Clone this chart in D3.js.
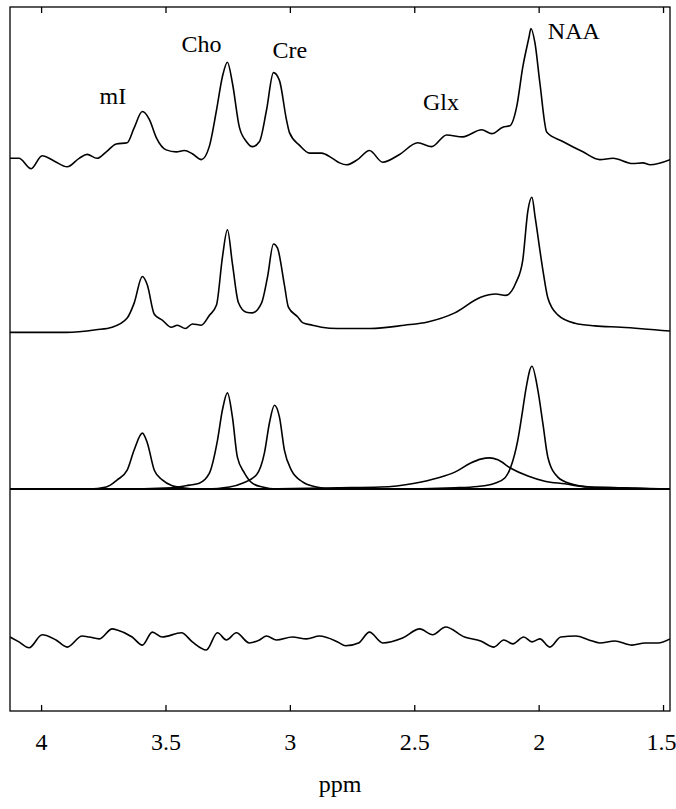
<!DOCTYPE html>
<html>
<head>
<meta charset="utf-8">
<script src="https://cdn.jsdelivr.net/npm/d3@7"></script>
<style>
  body { margin: 0; background: #fff; }
  svg text { font-family: "Liberation Serif", "Times New Roman", serif; fill: #000; }
</style>
</head>
<body>
<div id="chart"></div>
<script>
// chemical shift ticks
var ppmTicks = [4, 3.5, 3, 2.5, 2, 1.5];

// metabolite labels [name, ppm, amplitude above top trace]
var peakNames = ['mI', 'Cho', 'Cre', 'Glx', 'NAA'];
var labelPpm = [3.765, 3.436, 3.070, 2.465, 1.963];
var labelAmp = [0.42, 0.82, 0.77, 0.37, 0.92];

// measured spectrum (top)
var specPpm = [4.125,4.089,4.040,3.996,3.948,3.895,3.847,3.815,3.775,3.738,3.698,3.654,3.626,3.593,3.565,3.537,3.497,3.457,3.424,3.392,3.356,3.324,3.295,3.271,3.251,3.231,3.203,3.175,3.151,3.122,3.094,3.066,3.042,3.014,3.002,2.961,2.921,2.873,2.829,2.800,2.772,2.728,2.680,2.627,2.559,2.486,2.430,2.370,2.305,2.229,2.188,2.144,2.116,2.088,2.064,2.039,2.031,2.015,1.995,1.967,1.903,1.822,1.754,1.701,1.621,1.581,1.552,1.472];
var specAmp = [0.00,0.00,-0.08,0.02,-0.02,-0.065,0.00,0.03,0.00,0.05,0.11,0.12,0.235,0.36,0.30,0.16,0.065,0.05,0.06,0.035,-0.01,0.09,0.37,0.63,0.74,0.58,0.24,0.13,0.09,0.13,0.37,0.66,0.60,0.30,0.20,0.10,0.04,0.04,0.00,-0.035,-0.05,-0.01,0.06,-0.03,0.03,0.12,0.09,0.18,0.165,0.22,0.19,0.24,0.25,0.40,0.70,0.93,1.00,0.89,0.58,0.20,0.13,0.05,-0.01,0.00,-0.04,-0.035,-0.05,-0.01];

// fitted spectrum
var fitPpm = [4.125,4.036,3.899,3.779,3.714,3.654,3.626,3.593,3.573,3.545,3.513,3.477,3.452,3.420,3.392,3.356,3.324,3.295,3.271,3.251,3.231,3.207,3.175,3.151,3.114,3.090,3.066,3.050,3.022,3.006,2.969,2.949,2.909,2.873,2.808,2.676,2.539,2.446,2.337,2.233,2.172,2.132,2.092,2.064,2.043,2.027,2.014,1.983,1.963,1.923,1.854,1.774,1.669,1.472];
var fitAmp = [-0.01,-0.01,-0.01,0.01,0.03,0.10,0.215,0.42,0.355,0.13,0.085,0.03,0.045,0.02,0.055,0.045,0.12,0.20,0.57,0.78,0.52,0.22,0.145,0.14,0.215,0.415,0.67,0.64,0.355,0.185,0.11,0.065,0.045,0.03,0.02,0.02,0.045,0.07,0.14,0.26,0.285,0.275,0.37,0.545,0.93,1.03,0.875,0.47,0.255,0.125,0.06,0.04,0.03,0.00];

// fitted components
var mIPpm = [4.125,3.807,3.738,3.694,3.654,3.626,3.593,3.573,3.545,3.513,3.473,3.432,3.364,1.472];
var mIAmp = [0,0,0.015,0.07,0.145,0.30,0.43,0.355,0.145,0.07,0.025,0.01,0,0];
var choPpm = [4.125,3.700,3.473,3.404,3.364,3.324,3.291,3.271,3.251,3.231,3.211,3.183,3.151,3.110,3.054,1.472];
var choAmp = [0,0,0.01,0.03,0.045,0.12,0.375,0.61,0.74,0.555,0.245,0.125,0.045,0.015,0,0];
var crePpm = [4.125,3.500,3.336,3.243,3.191,3.134,3.102,3.082,3.062,3.042,3.022,2.994,2.949,2.893,2.829,1.472];
var creAmp = [0,0,0,0.015,0.045,0.11,0.28,0.51,0.645,0.555,0.30,0.145,0.055,0.015,0,0];
var glxPpm = [4.125,3.200,2.808,2.635,2.498,2.406,2.337,2.273,2.233,2.196,2.164,2.112,2.043,1.975,1.895,1.802,1.669,1.472];
var glxAmp = [0,0,0.01,0.015,0.045,0.085,0.13,0.20,0.23,0.24,0.225,0.16,0.10,0.06,0.04,0.015,0.01,0];
var naaPpm = [4.125,2.600,2.337,2.245,2.176,2.136,2.112,2.084,2.064,2.052,2.027,2.003,1.983,1.963,1.923,1.870,1.790,1.669,1.512,1.472];
var naaAmp = [0,0,0.01,0.02,0.045,0.085,0.17,0.375,0.61,0.76,0.945,0.76,0.505,0.245,0.092,0.04,0.015,0.01,0,0];

// residual (bottom)
var resPpm = [4.125,4.089,4.048,3.996,3.940,3.895,3.835,3.807,3.767,3.714,3.694,3.634,3.593,3.553,3.513,3.436,3.392,3.336,3.291,3.255,3.215,3.163,3.122,3.094,3.054,2.990,2.933,2.881,2.808,2.776,2.724,2.680,2.627,2.547,2.478,2.426,2.374,2.298,2.233,2.180,2.140,2.104,2.060,2.027,1.995,1.955,1.911,1.850,1.798,1.754,1.694,1.625,1.572,1.520,1.472];
var resAmp = [0.023,-0.015,-0.06,0.04,0,-0.055,0.03,0.023,0.008,0.085,0.077,0.023,-0.04,0.06,0.023,0.055,-0.015,-0.077,0.055,0,0.055,-0.023,0,0.03,0,0.023,0.008,0.03,-0.015,-0.045,-0.023,0.06,-0.023,0.015,0.085,0.04,0.10,0.023,-0.008,-0.055,0,-0.03,0.023,-0.015,0.008,-0.055,0.023,0.03,0,-0.023,-0.008,-0.04,-0.023,-0.023,0.008];

// vertical offsets of the stacked traces
var offsets = [4.255, 2.925, 1.709, 0.547];

const width = 676, height = 809;
const padL = 10, padR = 670, padT = 7, padB = 711;

var svg = d3.select('#chart')
    .append('svg')
    .attr('width', width)
    .attr('height', height);

var x = d3.scaleLinear().domain([4.125, 1.472]).range([padL, padR]);
var y = d3.scaleLinear().domain([0, 5.42]).range([padB, padT]);

function trace(ppm, amp, off) {
    return ppm.map(function(p, i){ return [p, amp[i] + off]; });
}
var line = d3.line()
    .x(function(d){ return x(d[0]); })
    .y(function(d){ return y(d[1]); })
    .curve(d3.curveMonotoneX);

var series = [
    trace(specPpm, specAmp, offsets[0]),
    trace(fitPpm, fitAmp, offsets[1]),
    trace(mIPpm, mIAmp, offsets[2]),
    trace(choPpm, choAmp, offsets[2]),
    trace(crePpm, creAmp, offsets[2]),
    trace(glxPpm, glxAmp, offsets[2]),
    trace(naaPpm, naaAmp, offsets[2]),
    trace(resPpm, resAmp, offsets[3])
];

svg.append('clipPath').attr('id', 'clip')
    .append('rect')
    .attr('x', padL).attr('y', padT)
    .attr('width', padR - padL).attr('height', padB - padT);

var g = svg.append('g').attr('clip-path', 'url(#clip)');

// zero line under the components
g.append('line')
    .attr('x1', padL).attr('x2', padR)
    .attr('y1', y(offsets[2])).attr('y2', y(offsets[2]))
    .attr('stroke', '#000')
    .attr('stroke-width', 1.8);

g.selectAll('path.trace')
    .data(series)
    .enter()
    .append('path')
    .attr('class', 'trace')
    .attr('d', line)
    .attr('fill', 'none')
    .attr('stroke', '#000')
    .attr('stroke-width', 1.6)
    .attr('stroke-linejoin', 'round');

// frame
svg.append('rect')
    .attr('x', padL).attr('y', padT)
    .attr('width', padR - padL).attr('height', padB - padT)
    .attr('fill', 'none')
    .attr('stroke', '#000')
    .attr('stroke-width', 1.3);

var xAxis = svg.append('g')
    .attr('transform', 'translate(0,' + padB + ')')
    .call(d3.axisBottom(x).tickValues(ppmTicks).tickSize(-6).tickPadding(22)
        .tickFormat(function(d){ return d; }));
xAxis.select('.domain').remove();
xAxis.selectAll('line').attr('stroke-width', 1.3);
xAxis.selectAll('text')
    .attr('font-size', 24)
    .attr('font-family', '"Liberation Serif", serif')
    .attr('fill', '#000');
// last label sits at the frame edge
xAxis.selectAll('text').filter(function(d){ return d === 1.5; })
    .attr('text-anchor', 'end').attr('dx', 13);

var topAxis = svg.append('g')
    .attr('transform', 'translate(0,' + padT + ')')
    .call(d3.axisTop(x).tickValues(ppmTicks).tickSize(-6).tickFormat(''));
topAxis.select('.domain').remove();
topAxis.selectAll('line').attr('stroke-width', 1.3);

svg.append('text')
    .attr('x', (padL + padR) / 2)
    .attr('y', 792)
    .attr('text-anchor', 'middle')
    .attr('font-size', 24)
    .text('ppm');

svg.selectAll('text.peak')
    .data(peakNames)
    .enter()
    .append('text')
    .attr('class', 'peak')
    .attr('x', function(d, i){ return x(labelPpm[i]); })
    .attr('y', function(d, i){ return y(offsets[0] + labelAmp[i]); })
    .attr('font-size', 24)
    .text(function(d){ return d; });
</script>
</body>
</html>
